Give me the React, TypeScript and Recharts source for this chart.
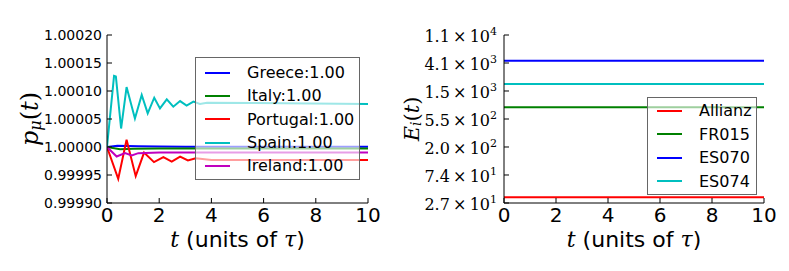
import React from "react";
import { LineChart, Line, XAxis, YAxis } from "recharts";

const SANS = "'DejaVu Sans', sans-serif";
const SERIF = "'DejaVu Serif', serif";

// left panel: p_mu(t)
const T_TICKS = [0, 2, 4, 6, 8, 10];
const P_TICKS = [0.9999, 0.99995, 1.0, 1.00005, 1.0001, 1.00015, 1.0002];

const COUNTRIES = ["Greece", "Italy", "Portugal", "Spain", "Ireland"];
const COUNTRY_FINAL = ["1.00", "1.00", "1.00", "1.00", "1.00"];
const COUNTRY_COLORS = ["#0000ff", "#008000", "#ff0000", "#00bfbf", "#bf00bf"];

const GREECE_T = [0, 0.4, 0.8, 1.2, 2, 3, 10];
const GREECE_P = [1.0, 1.0000023, 1.000002, 1.0000015, 1.000001, 1.0000005, 1.0000005];
const ITALY_T = [0, 0.5, 1.0, 2, 10];
const ITALY_P = [1.0, 0.9999962, 0.999997, 0.9999975, 0.9999975];
const PORTUGAL_T = [0, 0.43, 0.75, 1.1, 1.42, 1.8, 2.16, 2.48, 2.8, 3.1, 3.4, 4, 10];
const PORTUGAL_P = [1.0, 0.999943, 1.000013, 0.999948, 0.99999, 0.999973, 0.999982, 0.999974, 0.999983, 0.999976, 0.99998, 0.999977, 0.999977];
const SPAIN_T = [0, 0.27, 0.34, 0.54, 0.75, 1.07, 1.33, 1.56, 1.81, 2.03, 2.29, 2.54, 2.8, 3.05, 3.31, 3.56, 3.83, 10];
const SPAIN_P = [1.0, 1.000127, 1.000126, 1.000033, 1.000107, 1.000051, 1.000093, 1.00006, 1.000088, 1.000069, 1.000085, 1.000072, 1.000082, 1.000074, 1.000081, 1.000077, 1.000079, 1.000077];
const IRELAND_T = [0, 0.37, 0.69, 0.95, 1.2, 2, 10];
const IRELAND_P = [1.0, 0.999983, 0.999989, 0.999985, 0.999989, 0.99999, 0.99999];

// right panel: E_i(t), log axis
const E_TICKS = [27.4, 74.5, 202.5, 550.3, 1496, 4066, 11054];
const E_TICK_MANT = ["2.7", "7.4", "2.0", "5.5", "1.5", "4.1", "1.1"];
const E_TICK_EXP = ["1", "1", "2", "2", "3", "3", "4"];

const BANKS = ["Allianz", "FR015", "ES070", "ES074"];
const BANK_COLORS = ["#ff0000", "#008000", "#0000ff", "#00bfbf"];
const BANK_T = [0, 10];
const BANK_E = [33.6, 836, 4414, 1921];

const zip = (ts: number[], vs: number[], key: string) => ts.map((t, i) => ({ t, [key]: vs[i] }));

const BottomTick = (p: any) => (
  <g>
    <line x1={p.x} y1={p.y} x2={p.x} y2={p.y - 5} stroke="#000" />
    <text x={p.x} y={p.y + 19} textAnchor="middle" fontSize={20} fontFamily={SANS} fill="#000">
      {p.payload.value}
    </text>
  </g>
);

const TopTick = (p: any) => <line x1={p.x} y1={p.y} x2={p.x} y2={p.y + 5} stroke="#000" />;

const RightTick = (p: any) => <line x1={p.x} y1={p.y} x2={p.x - 5} y2={p.y} stroke="#000" />;

const LeftTickP = (p: any) => (
  <g>
    <line x1={p.x} y1={p.y} x2={p.x + 5} y2={p.y} stroke="#000" />
    <text x={p.x - 5} y={p.y} dy="0.36em" textAnchor="end" fontSize={14} fontFamily={SANS} fill="#000">
      {Number(p.payload.value).toFixed(5)}
    </text>
  </g>
);

const LeftTickE = (p: any) => {
  const i = E_TICKS.findIndex((v) => Math.abs(v - p.payload.value) < 1e-6 * v);
  return (
    <g>
      <line x1={p.x} y1={p.y} x2={p.x + 5} y2={p.y} stroke="#000" />
      <text x={p.x - 7} y={p.y} dy="0.45em" textAnchor="end" fontSize={16} fontFamily={SERIF} fill="#000">
        {E_TICK_MANT[i]}
        {"\u2009\u00d7\u200910"}
        <tspan dy={-7} fontSize={11}>{E_TICK_EXP[i]}</tspan>
      </text>
    </g>
  );
};

const XLabel = (p: any) => {
  const vb = p.viewBox || {};
  return (
    <text x={vb.x + vb.width / 2} y={vb.y + 44} textAnchor="middle" fontSize={22} fontFamily={SANS} fill="#000">
      <tspan fontFamily={SERIF} fontStyle="italic">t</tspan>
      {" (units of "}
      <tspan fontFamily={SERIF} fontStyle="italic">τ</tspan>
      {")"}
    </text>
  );
};

const TitleLeft = (p: any) => {
  const vb = p.viewBox || {};
  return (
    <text x={vb.x + vb.width / 2} y={vb.y - 6} textAnchor="middle" fontSize={20} fontFamily={SANS} fill="#000">
      <tspan fontFamily={SERIF} fontStyle="italic">α</tspan>
      <tspan fontFamily={SERIF}>{"\u2009=\u2009"}</tspan>
      {"10.00, "}
      <tspan fontFamily={SERIF} fontStyle="italic">β</tspan>
      <tspan fontFamily={SERIF}>{"\u2009=\u2009"}</tspan>
      {"-10.00"}
    </text>
  );
};

const TitleRight = (p: any) => {
  const vb = p.viewBox || {};
  return (
    <text x={vb.x + vb.width / 2} y={vb.y - 6} textAnchor="middle" fontSize={20} fontFamily={SANS} fill="#000">
      # failed banks:0
    </text>
  );
};

const YLabelP = (p: any) => {
  const vb = p.viewBox || {};
  const cx = 30;
  const cy = vb.y + vb.height / 2;
  return (
    <text x={cx} y={cy} transform={`rotate(-90, ${cx}, ${cy})`} textAnchor="middle" dominantBaseline="central"
      fontSize={24} fontFamily={SERIF} fill="#000">
      <tspan fontStyle="italic">p</tspan>
      <tspan fontStyle="italic" fontSize={16} dy={5}>μ</tspan>
      <tspan dy={-5}>(</tspan>
      <tspan fontStyle="italic">t</tspan>
      {")"}
    </text>
  );
};

const YLabelE = (p: any) => {
  const vb = p.viewBox || {};
  const cx = 12;
  const cy = vb.y + vb.height / 2;
  return (
    <text x={cx} y={cy} transform={`rotate(-90, ${cx}, ${cy})`} textAnchor="middle" dominantBaseline="central"
      fontSize={21} fontFamily={SERIF} fill="#000">
      <tspan fontStyle="italic">E</tspan>
      <tspan fontStyle="italic" fontSize={14} dy={4}>i</tspan>
      <tspan dy={-4}>(</tspan>
      <tspan fontStyle="italic">t</tspan>
      {")"}
    </text>
  );
};

function LegendBox(props: {
  labels: string[];
  colors: string[];
  left: number;
  top: number;
  width: number;
  height: number;
  rowH: number;
  padTop: number;
}) {
  const { labels, colors, left, top, width, height, rowH, padTop } = props;
  return (
    <div
      style={{
        position: "absolute",
        left,
        top,
        width,
        height,
        boxSizing: "border-box",
        background: "rgba(255,255,255,0.62)",
        border: "1px solid #666",
        paddingTop: padTop,
        fontFamily: SANS,
        fontSize: 16,
        color: "#000",
      }}
    >
      {labels.map((l, i) => (
        <div key={l} style={{ height: rowH, display: "flex", alignItems: "center", whiteSpace: "nowrap" }}>
          <span style={{ display: "inline-block", width: 25, height: 2, background: colors[i], marginLeft: 9 }} />
          <span style={{ marginLeft: 17 }}>{l}</span>
        </div>
      ))}
    </div>
  );
}

export default function App() {
  const countryData = [
    zip(GREECE_T, GREECE_P, "p"),
    zip(ITALY_T, ITALY_P, "p"),
    zip(PORTUGAL_T, PORTUGAL_P, "p"),
    zip(SPAIN_T, SPAIN_P, "p"),
    zip(IRELAND_T, IRELAND_P, "p"),
  ];
  const bankData = BANK_E.map((v) => zip(BANK_T, [v, v], "e"));

  return (
    <div style={{ position: "absolute", left: 0, top: 0, width: 789, height: 271, background: "#fff" }}>
      <div style={{ position: "absolute", left: 0, top: 0 }}>
        <LineChart width={400} height={271} margin={{ top: 35, right: 32, bottom: 0, left: 0 }}>
          <XAxis dataKey="t" type="number" domain={[0, 10]} ticks={T_TICKS} interval={0} height={68}
            tickSize={0} tickMargin={0} tickLine={false} axisLine={{ stroke: "#000" }} tick={BottomTick}
            label={XLabel} allowDataOverflow />
          <XAxis xAxisId="top" orientation="top" dataKey="t" type="number" domain={[0, 10]} ticks={T_TICKS}
            interval={0} height={0} tickSize={0} tickMargin={0} tickLine={false} axisLine={{ stroke: "#000" }}
            tick={TopTick} label={TitleLeft} allowDataOverflow />
          <YAxis type="number" domain={[0.9999, 1.0002]} ticks={P_TICKS} interval={0} width={107}
            tickSize={0} tickMargin={0} tickLine={false} axisLine={{ stroke: "#000" }} tick={LeftTickP}
            label={YLabelP} allowDataOverflow />
          <YAxis yAxisId="right" orientation="right" type="number" domain={[0.9999, 1.0002]} ticks={P_TICKS}
            interval={0} width={0} tickSize={0} tickMargin={0} tickLine={false} axisLine={{ stroke: "#000" }}
            tick={RightTick} allowDataOverflow />
          {COUNTRIES.map((c, i) => (
            <Line key={c} data={countryData[i]} dataKey="p" type="linear" stroke={COUNTRY_COLORS[i]}
              strokeWidth={2} dot={false} isAnimationActive={false} />
          ))}
        </LineChart>
      </div>
      <LegendBox labels={COUNTRIES.map((c, i) => `${c}:${COUNTRY_FINAL[i]}`)} colors={COUNTRY_COLORS}
        left={195} top={57} width={165} height={123} rowH={23.3} padTop={3} />

      <div style={{ position: "absolute", left: 400, top: 0 }}>
        <LineChart width={389} height={271} margin={{ top: 35, right: 25, bottom: 0, left: 0 }}>
          <XAxis dataKey="t" type="number" domain={[0, 10]} ticks={T_TICKS} interval={0} height={68}
            tickSize={0} tickMargin={0} tickLine={false} axisLine={{ stroke: "#000" }} tick={BottomTick}
            label={XLabel} allowDataOverflow />
          <XAxis xAxisId="top" orientation="top" dataKey="t" type="number" domain={[0, 10]} ticks={T_TICKS}
            interval={0} height={0} tickSize={0} tickMargin={0} tickLine={false} axisLine={{ stroke: "#000" }}
            tick={TopTick} label={TitleRight} allowDataOverflow />
          <YAxis type="number" scale="log" domain={[E_TICKS[0], E_TICKS[E_TICKS.length - 1]]} ticks={E_TICKS}
            interval={0} width={104} tickSize={0} tickMargin={0} tickLine={false} axisLine={{ stroke: "#000" }}
            tick={LeftTickE} label={YLabelE} allowDataOverflow />
          <YAxis yAxisId="right" orientation="right" type="number" scale="log"
            domain={[E_TICKS[0], E_TICKS[E_TICKS.length - 1]]} ticks={E_TICKS} interval={0} width={0}
            tickSize={0} tickMargin={0} tickLine={false} axisLine={{ stroke: "#000" }} tick={RightTick}
            allowDataOverflow />
          {BANKS.map((b, i) => (
            <Line key={b} data={bankData[i]} dataKey="e" type="linear" stroke={BANK_COLORS[i]}
              strokeWidth={2} dot={false} isAnimationActive={false} />
          ))}
        </LineChart>
      </div>
      <LegendBox labels={BANKS} colors={BANK_COLORS} left={647} top={97} width={110} height={98}
        rowH={23.5} padTop={1} />
    </div>
  );
}
